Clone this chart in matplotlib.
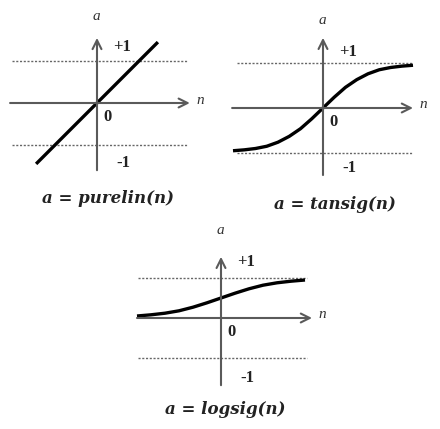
import matplotlib
matplotlib.use("Agg")
import matplotlib.pyplot as plt

# figure size in pixels
W, H = 440, 429

# purelin: straight line
purelin_n = [-1.45, 1.45]
purelin_a = [-1.45, 1.45]

# tansig: values
tansig_n = [-2.0, -1.75, -1.5, -1.25, -1.0, -0.75, -0.5, -0.25, 0.0,
            0.25, 0.5, 0.75, 1.0, 1.25, 1.5, 1.75, 2.0]
tansig_a = [-0.95, -0.93, -0.9, -0.85, -0.76, -0.63, -0.46, -0.24, 0.0,
            0.24, 0.46, 0.63, 0.76, 0.85, 0.9, 0.93, 0.95]

# logsig: values
logsig_n = [-3.0, -2.5, -2.0, -1.5, -1.0, -0.5, 0.0, 0.5, 1.0, 1.5, 2.0, 2.5, 3.0]
logsig_a = [0.05, 0.08, 0.12, 0.18, 0.27, 0.38, 0.5, 0.62, 0.73, 0.82, 0.88, 0.92, 0.95]

titles = ["a = purelin(n)", "a = tansig(n)", "a = logsig(n)"]

# panel geometry: origin pixel, px per unit in x and y, axis spans
panels = [
    dict(ox=97, oy=103, sx=42, sy=42, xa=(-2.07, 2.21), ya=(-1.6, 1.55),
         xd=(-2.02, 2.17), title_xy=(108, 199)),
    dict(ox=323, oy=108, sx=45, sy=45, xa=(-2.02, 2.0), ya=(-1.49, 1.56),
         xd=(-1.91, 2.0), title_xy=(335, 205)),
    dict(ox=221, oy=318, sx=28, sy=40, xa=(-3.0, 3.25), ya=(-1.68, 1.53),
         xd=(-2.96, 3.07), title_xy=(225, 409)),
]
curves = [(purelin_n, purelin_a), (tansig_n, tansig_a), (logsig_n, logsig_a)]

fig = plt.figure(figsize=(W / 100, H / 100), dpi=100)
fig.patch.set_facecolor("white")

serif = ["Liberation Serif", "DejaVu Serif"]
axis_col = "#5a5a5a"

for p, (cn, ca), title in zip(panels, curves, titles):
    x0, x1 = -3.6, 3.6
    y0, y1 = -2.6, 2.6
    left = (p["ox"] + x0 * p["sx"]) / W
    bottom = 1 - (p["oy"] - y0 * p["sy"]) / H
    ax = fig.add_axes([left, bottom, (x1 - x0) * p["sx"] / W, (y1 - y0) * p["sy"] / H])
    ax.set_xlim(x0, x1)
    ax.set_ylim(y0, y1)
    ax.axis("off")

    # dotted limits at +1 and -1
    for lev in (1, -1):
        ax.plot(p["xd"], [lev, lev], color="#666666", lw=1.0, ls=(0, (1.5, 1.2)))

    # axes with arrow heads
    ax.annotate("", xy=(p["xa"][1], 0), xytext=(p["xa"][0], 0),
                arrowprops=dict(arrowstyle="->", color=axis_col, lw=1.5,
                                mutation_scale=16, shrinkA=0, shrinkB=0))
    ax.annotate("", xy=(0, p["ya"][1]), xytext=(0, p["ya"][0]),
                arrowprops=dict(arrowstyle="->", color=axis_col, lw=1.5,
                                mutation_scale=16, shrinkA=0, shrinkB=0))

    ax.plot(cn, ca, color="black", lw=2.4, solid_capstyle="butt")

    # labels in pixel offsets from origin
    def px(dx, dy):
        return dx / p["sx"], -dy / p["sy"]

    ax.text(*px(-1, -87), "a", family=serif, style="italic", fontsize=11,
            ha="center", va="center", color="#333333")
    ax.text(*px(p["xa"][1] * p["sx"] + 10, -3), "n", family=serif, style="italic",
            fontsize=11, ha="center", va="center", color="#333333")
    ax.text(*px(25, -56), "+1", family=serif, fontsize=12, weight="bold",
            ha="center", va="center", color="#222222")
    ax.text(*px(10, 14), "0", family=serif, fontsize=12, weight="bold",
            ha="center", va="center", color="#222222")
    ax.text(*px(26, 60), "-1", family=serif, fontsize=12, weight="bold",
            ha="center", va="center", color="#222222")

    fig.text(p["title_xy"][0] / W, 1 - p["title_xy"][1] / H, title,
             family=["DejaVu Serif"], style="italic", weight="bold", fontsize=12,
             ha="center", va="center", color="#222222")

fig.savefig("out.png", dpi=100, facecolor="white")
